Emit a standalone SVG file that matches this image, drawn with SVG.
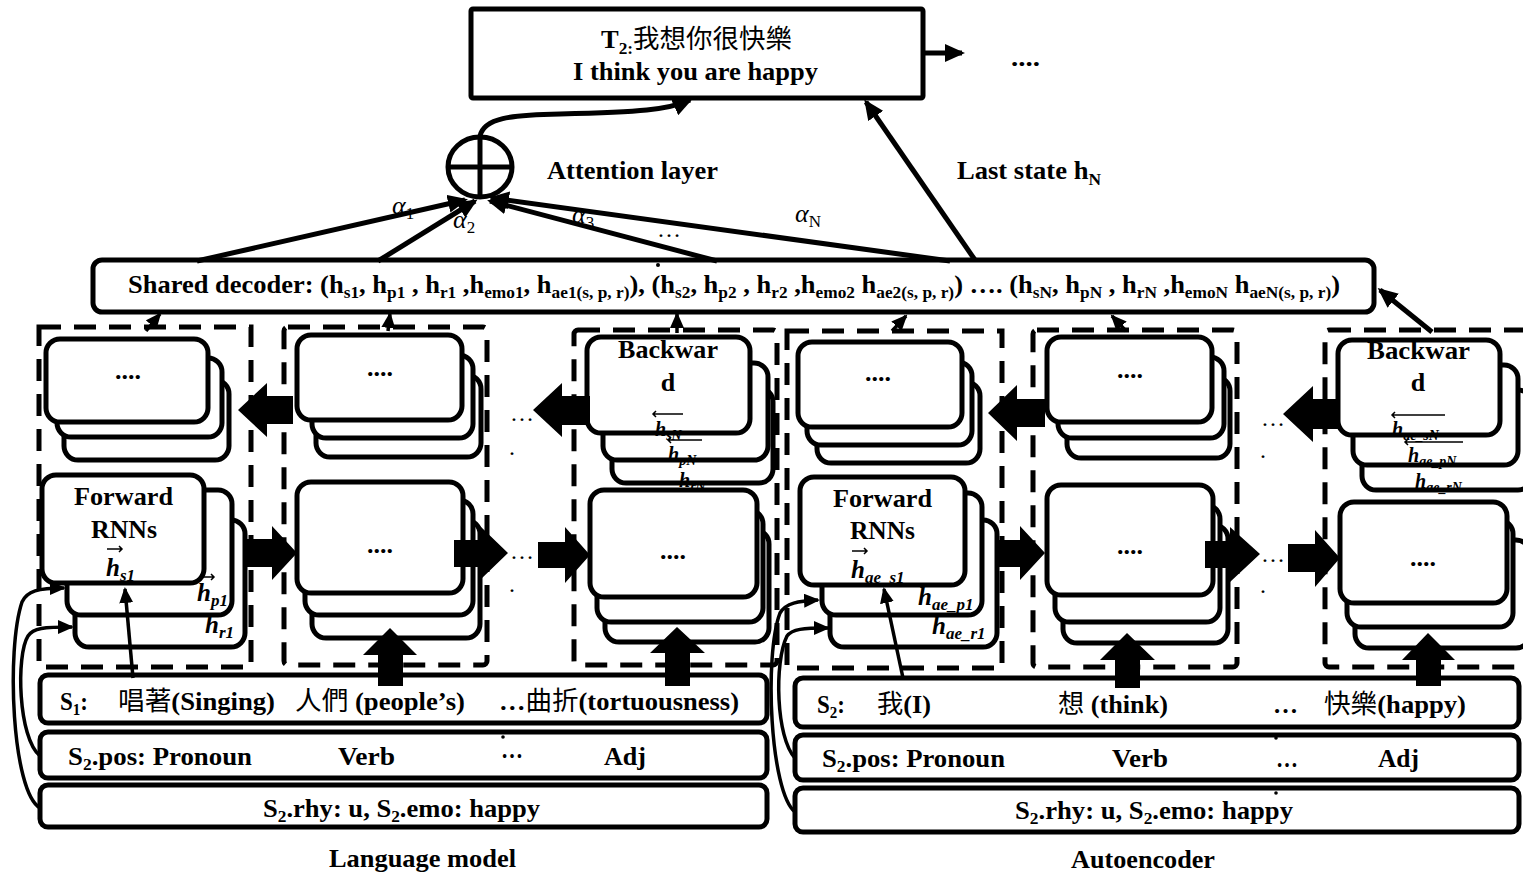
<svg xmlns="http://www.w3.org/2000/svg" width="1523" height="875" viewBox="0 0 1523 875">
<defs>
<style>
text{font-family:"Liberation Serif","Noto Sans CJK TC",serif;font-weight:bold;font-size:26px;fill:#000}
.cjk{font-family:"Noto Sans CJK TC",sans-serif;font-weight:normal}
.sb{font-size:17px}
.m{font-style:italic;font-weight:bold;font-size:25px}
.mb{font-style:italic;font-weight:bold;font-size:20px}
.sbs{font-size:14px}
.al{font-style:italic;font-weight:normal;font-size:26px}
.dots{font-weight:normal;font-size:24px}
.c{fill:#fff;stroke:#000;stroke-width:5}
.bar{fill:#fff;stroke:#000;stroke-width:5}
.dash{fill:none;stroke:#000;stroke-width:5;stroke-dasharray:22 13}
.ln{fill:none;stroke:#000;stroke-width:5}
.thin{fill:none;stroke:#000;stroke-width:3.5}
.va{fill:none;stroke:#000;stroke-width:1.5}
.blk{fill:#000;stroke:none}
</style>
<marker id="ah" viewBox="0 0 20 18" refX="17" refY="9" markerWidth="20" markerHeight="18" markerUnits="userSpaceOnUse" orient="auto"><path d="M0,0 L20,9 L0,18 z" fill="#000"/></marker>
<marker id="ahs" viewBox="0 0 16 14" refX="14" refY="7" markerWidth="16" markerHeight="14" markerUnits="userSpaceOnUse" orient="auto"><path d="M0,0 L16,7 L0,14 z" fill="#000"/></marker>
</defs>
<rect width="1523" height="875" fill="#fff"/>

<!-- dashed column boxes -->
<g id="columns">
<rect class="dash" x="39" y="327" width="212" height="340"/>
<rect class="dash" x="284" y="327" width="203" height="338" rx="4"/>
<rect class="dash" x="574" y="330" width="203" height="335" rx="4"/>
<rect class="dash" x="787" y="331" width="215" height="337"/>
<rect class="dash" x="1033" y="330" width="204" height="337" rx="4"/>
<rect class="dash" x="1325" y="330" width="210" height="337" rx="4"/>
</g>

<!-- output box -->
<g id="output">
<rect x="471" y="9" width="452" height="89" fill="#fff" stroke="#000" stroke-width="5" rx="2"/>
<text x="601" y="48" font-size="24" textLength="191" lengthAdjust="spacingAndGlyphs">T<tspan class="sb" dy="6">2:</tspan><tspan class="cjk" dy="-6">我想你很快樂</tspan></text>
<text x="573" y="80" textLength="245" lengthAdjust="spacingAndGlyphs">I think you are happy</text>
</g>
<g id="next-dots"><text x="1011" y="66" textLength="29" lengthAdjust="spacingAndGlyphs">....</text></g>

<!-- attention -->
<g id="attention">
<ellipse cx="480" cy="167" rx="32" ry="30" fill="#fff" stroke="#000" stroke-width="5"/>
<line x1="480" y1="137" x2="480" y2="197" stroke="#000" stroke-width="5"/>
<line x1="448" y1="167" x2="512" y2="167" stroke="#000" stroke-width="5"/>
</g>
<g id="attention-label"><text x="547" y="179" textLength="171" lengthAdjust="spacingAndGlyphs">Attention layer</text></g>
<g id="last-state-label"><text x="957" y="179" textLength="144" lengthAdjust="spacingAndGlyphs">Last state h<tspan class="sb" dy="6">N</tspan></text></g>

<!-- shared decoder -->
<g id="decoder">
<rect x="93" y="260" width="1281" height="52" rx="9" fill="#fff" stroke="#000" stroke-width="5"/>
<text x="128" y="293" font-size="25" textLength="1212" lengthAdjust="spacingAndGlyphs">Shared decoder: (h<tspan class="sb" dy="5">s1</tspan><tspan dy="-5">, h</tspan><tspan class="sb" dy="5">p1</tspan><tspan dy="-5"> , h</tspan><tspan class="sb" dy="5">r1</tspan><tspan dy="-5"> ,h</tspan><tspan class="sb" dy="5">emo1</tspan><tspan dy="-5">, h</tspan><tspan class="sb" dy="5">ae1(s, p, r)</tspan><tspan dy="-5">), (h</tspan><tspan class="sb" dy="5">s2</tspan><tspan dy="-5">, h</tspan><tspan class="sb" dy="5">p2</tspan><tspan dy="-5"> , h</tspan><tspan class="sb" dy="5">r2</tspan><tspan dy="-5"> ,h</tspan><tspan class="sb" dy="5">emo2</tspan><tspan dy="-5"> h</tspan><tspan class="sb" dy="5">ae2(s, p, r)</tspan><tspan dy="-5">) …. (h</tspan><tspan class="sb" dy="5">sN</tspan><tspan dy="-5">, h</tspan><tspan class="sb" dy="5">pN</tspan><tspan dy="-5"> , h</tspan><tspan class="sb" dy="5">rN</tspan><tspan dy="-5"> ,h</tspan><tspan class="sb" dy="5">emoN</tspan><tspan dy="-5"> h</tspan><tspan class="sb" dy="5">aeN(s, p, r)</tspan><tspan dy="-5">)</tspan></text>
<circle cx="658" cy="265" r="2" fill="#000"/>
</g>

<!-- LM column 1 -->
<g id="lm-bwd-1">
<rect class="c" x="64" y="380" width="165" height="80" rx="14"/>
<rect class="c" x="57" y="358" width="165" height="79" rx="14"/>
<rect class="c" x="46" y="339" width="162" height="83" rx="14"/>
<text x="128" y="379" text-anchor="middle">....</text>
</g>
<g id="lm-fwd-1">
<rect class="c" x="75" y="520" width="170" height="127" rx="14"/>
<text class="m" x="205" y="633">h<tspan class="sb" dy="5">r1</tspan></text>
<rect class="c" x="67" y="490" width="165" height="125" rx="14"/>
<path class="va" d="M202,577 h12 m-3,-3 l3,3 l-3,3"/>
<text class="m" x="197" y="601">h<tspan class="sb" dy="5">p1</tspan></text>
<rect class="c" x="42" y="475" width="162" height="108" rx="14"/>
<text x="74" y="505" textLength="99" lengthAdjust="spacingAndGlyphs">Forward</text>
<text x="91" y="538" textLength="66" lengthAdjust="spacingAndGlyphs">RNNs</text>
<path class="va" d="M107,549 h15 m-3,-3 l3,3 l-3,3"/>
<text class="m" x="106" y="576">h<tspan class="sb" dy="5">s1</tspan></text>
</g>

<!-- LM column 2 -->
<g id="lm-bwd-2">
<rect class="c" x="316" y="375" width="165" height="82" rx="14"/>
<rect class="c" x="312" y="355" width="161" height="83" rx="14"/>
<rect class="c" x="297" y="335" width="165" height="85" rx="14"/>
<text x="380" y="376" text-anchor="middle">....</text>
</g>
<g id="lm-fwd-2">
<rect class="c" x="312" y="520" width="168" height="118" rx="14"/>
<rect class="c" x="305" y="500" width="168" height="115" rx="14"/>
<rect class="c" x="297" y="482" width="166" height="111" rx="14"/>
<text x="380" y="553" text-anchor="middle">....</text>
</g>

<!-- LM column N -->
<g id="lm-bwd-n">
<rect class="c" x="612" y="388" width="161" height="95" rx="14"/>
<text class="mb" x="679" y="487">h<tspan class="sbs" dy="4">rN</tspan></text>
<rect class="c" x="603" y="363" width="165" height="97" rx="14"/>
<path class="va" d="M702,440 h-34 m3,-3 l-3,3 l3,3"/>
<text class="mb" x="668" y="461">h<tspan class="sbs" dy="4">pN</tspan></text>
<rect class="c" x="587" y="337" width="163" height="96" rx="14"/>
<text x="618" y="358" textLength="100" lengthAdjust="spacingAndGlyphs">Backwar</text>
<text x="668" y="391" text-anchor="middle">d</text>
<path class="va" d="M683,414 h-30 m3,-3 l-3,3 l3,3"/>
<text class="mb" x="655" y="436">h<tspan class="sbs" dy="4">sN</tspan></text>
</g>
<g id="lm-fwd-n">
<rect class="c" x="605" y="530" width="164" height="112" rx="14"/>
<rect class="c" x="597" y="510" width="166" height="112" rx="14"/>
<rect class="c" x="590" y="490" width="167" height="107" rx="14"/>
<text x="673" y="559" text-anchor="middle">....</text>
</g>

<!-- AE column 1 -->
<g id="ae-bwd-1">
<rect class="c" x="817" y="382" width="163" height="81" rx="14"/>
<rect class="c" x="807" y="362" width="165" height="83" rx="14"/>
<rect class="c" x="798" y="342" width="164" height="85" rx="14"/>
<text x="878" y="381" text-anchor="middle">....</text>
</g>
<g id="ae-fwd-1">
<rect class="c" x="830" y="520" width="167" height="127" rx="14"/>
<text class="m" x="932" y="634">h<tspan class="sb" dy="5">ae_r1</tspan></text>
<rect class="c" x="822" y="493" width="160" height="122" rx="14"/>
<text class="m" x="918" y="605">h<tspan class="sb" dy="5">ae_p1</tspan></text>
<rect class="c" x="800" y="477" width="165" height="108" rx="14"/>
<text x="833" y="507" textLength="99" lengthAdjust="spacingAndGlyphs">Forward</text>
<text x="850" y="539" textLength="65" lengthAdjust="spacingAndGlyphs">RNNs</text>
<path class="va" d="M852,551 h15 m-3,-3 l3,3 l-3,3"/>
<text class="m" x="851" y="578">h<tspan class="sb" dy="5">ae_s1</tspan></text>
</g>

<!-- AE column 2 -->
<g id="ae-bwd-2">
<rect class="c" x="1067" y="377" width="163" height="81" rx="14"/>
<rect class="c" x="1058" y="357" width="166" height="81" rx="14"/>
<rect class="c" x="1047" y="337" width="165" height="85" rx="14"/>
<text x="1130" y="378" text-anchor="middle">....</text>
</g>
<g id="ae-fwd-2">
<rect class="c" x="1063" y="525" width="165" height="118" rx="14"/>
<rect class="c" x="1055" y="505" width="165" height="117" rx="14"/>
<rect class="c" x="1047" y="485" width="166" height="110" rx="14"/>
<text x="1130" y="554" text-anchor="middle">....</text>
</g>

<!-- AE column N -->
<g id="ae-bwd-n">
<rect class="c" x="1362" y="390" width="170" height="100" rx="14"/>
<text class="mb" x="1415" y="488">h<tspan class="sbs" dy="4">ae_rN</tspan></text>
<rect class="c" x="1353" y="365" width="165" height="100" rx="14"/>
<path class="va" d="M1463,442 h-58 m3,-3 l-3,3 l3,3"/>
<text class="mb" x="1408" y="462">h<tspan class="sbs" dy="4">ae_pN</tspan></text>
<rect class="c" x="1338" y="340" width="162" height="95" rx="14"/>
<text x="1367" y="359" textLength="103" lengthAdjust="spacingAndGlyphs">Backwar</text>
<text x="1418" y="391" text-anchor="middle">d</text>
<path class="va" d="M1445,415 h-53 m3,-3 l-3,3 l3,3"/>
<text class="mb" x="1392" y="436">h<tspan class="sbs" dy="4">ae_sN</tspan></text>
</g>
<g id="ae-fwd-n">
<rect class="c" x="1355" y="540" width="175" height="108" rx="14"/>
<rect class="c" x="1347" y="520" width="166" height="107" rx="14"/>
<rect class="c" x="1340" y="502" width="167" height="101" rx="14"/>
<text x="1423" y="566" text-anchor="middle">....</text>
</g>

<!-- ellipsis between columns -->
<g id="gaps">
<text class="dots" x="510" y="421">…</text><text class="dots" x="509" y="455">.</text>
<text class="dots" x="510" y="559">…</text><text class="dots" x="509" y="592">.</text>
<text class="dots" x="1261" y="426">…</text><text class="dots" x="1260" y="458">.</text>
<text class="dots" x="1261" y="562">…</text><text class="dots" x="1260" y="593">.</text>
</g>

<!-- input bars: language model -->
<g id="lm-s1">
<rect class="bar" x="40" y="675" width="727" height="48" rx="8"/>
<text x="60" y="710" textLength="28" lengthAdjust="spacingAndGlyphs">S<tspan class="sb" dy="5">1</tspan><tspan dy="-5">:</tspan></text>
<text x="118" y="710" textLength="157" lengthAdjust="spacingAndGlyphs"><tspan class="cjk">唱著</tspan>(Singing)</text>
<text x="295" y="710" textLength="170" lengthAdjust="spacingAndGlyphs"><tspan class="cjk">人們</tspan> (people’s)</text>
<text x="499" y="710" textLength="240" lengthAdjust="spacingAndGlyphs">…<tspan class="cjk">曲折</tspan>(tortuousness)</text>
</g>
<g id="lm-pos">
<rect class="bar" x="40" y="732" width="727" height="46" rx="8"/>
<text x="68" y="765" textLength="184" lengthAdjust="spacingAndGlyphs">S<tspan class="sb" dy="5">2</tspan><tspan dy="-5">.pos: Pronoun</tspan></text>
<text x="338" y="765" textLength="57" lengthAdjust="spacingAndGlyphs">Verb</text>
<text x="501" y="758" textLength="22" lengthAdjust="spacingAndGlyphs">…</text>
<circle cx="503" cy="737" r="1.8" fill="#000"/>
<text x="604" y="765" textLength="42" lengthAdjust="spacingAndGlyphs">Adj</text>
</g>
<g id="lm-rhy">
<rect class="bar" x="40" y="785" width="727" height="42" rx="8"/>
<text x="263" y="817" textLength="277" lengthAdjust="spacingAndGlyphs">S<tspan class="sb" dy="5">2</tspan><tspan dy="-5">.rhy: u, S</tspan><tspan class="sb" dy="5">2</tspan><tspan dy="-5">.emo: happy</tspan></text>
</g>
<g id="lm-label"><text x="329" y="867" textLength="187" lengthAdjust="spacingAndGlyphs">Language model</text></g>

<!-- input bars: autoencoder -->
<g id="ae-s2">
<rect class="bar" x="795" y="678" width="724" height="49" rx="8"/>
<text x="817" y="713" textLength="28" lengthAdjust="spacingAndGlyphs">S<tspan class="sb" dy="5">2</tspan><tspan dy="-5">:</tspan></text>
<text x="877" y="713" textLength="54" lengthAdjust="spacingAndGlyphs"><tspan class="cjk">我</tspan>(I)</text>
<text x="1058" y="713" textLength="110" lengthAdjust="spacingAndGlyphs"><tspan class="cjk">想</tspan> (think)</text>
<text x="1273" y="713" textLength="25" lengthAdjust="spacingAndGlyphs">…</text>
<text x="1324" y="713" textLength="142" lengthAdjust="spacingAndGlyphs"><tspan class="cjk">快樂</tspan>(happy)</text>
</g>
<g id="ae-pos">
<rect class="bar" x="795" y="735" width="724" height="45" rx="8"/>
<text x="822" y="767" textLength="183" lengthAdjust="spacingAndGlyphs">S<tspan class="sb" dy="5">2</tspan><tspan dy="-5">.pos: Pronoun</tspan></text>
<text x="1112" y="767" textLength="56" lengthAdjust="spacingAndGlyphs">Verb</text>
<text x="1276" y="767" textLength="22" lengthAdjust="spacingAndGlyphs">…</text>
<circle cx="1276" cy="738" r="1.8" fill="#000"/>
<text x="1378" y="767" textLength="41" lengthAdjust="spacingAndGlyphs">Adj</text>
</g>
<g id="ae-rhy">
<rect class="bar" x="795" y="788" width="724" height="44" rx="8"/>
<circle cx="1276" cy="793" r="1.8" fill="#000"/>
<text x="1015" y="819" textLength="278" lengthAdjust="spacingAndGlyphs">S<tspan class="sb" dy="5">2</tspan><tspan dy="-5">.rhy: u, S</tspan><tspan class="sb" dy="5">2</tspan><tspan dy="-5">.emo: happy</tspan></text>
</g>
<g id="ae-label"><text x="1071" y="868" textLength="144" lengthAdjust="spacingAndGlyphs">Autoencoder</text></g>

<!-- connectors -->
<g id="connectors">
<text class="al" x="392" y="214">α<tspan font-style="normal" font-size="17" dy="5">1</tspan></text>
<text class="al" x="453" y="228">α<tspan font-style="normal" font-size="17" dy="5">2</tspan></text>
<text class="al" x="572" y="223">α<tspan font-style="normal" font-size="17" dy="5">3</tspan></text>
<text class="dots" x="657" y="237">…</text>
<text class="al" x="795" y="222">α<tspan font-style="normal" font-size="17" dy="5">N</tspan></text>
<line class="ln" x1="197" y1="261" x2="465" y2="200" marker-end="url(#ah)"/>
<line class="ln" x1="378" y1="261" x2="475" y2="201" marker-end="url(#ah)"/>
<line class="ln" x1="717" y1="261" x2="490" y2="201" marker-end="url(#ah)"/>
<line class="ln" x1="950" y1="261" x2="492" y2="198" marker-end="url(#ah)"/>
<path class="ln" d="M480,136 C484,118 510,115 560,114 C640,112 668,110 690,100" marker-end="url(#ah)"/>
<line class="ln" x1="975" y1="260" x2="866" y2="102" marker-end="url(#ah)"/>
<line class="ln" x1="923" y1="53" x2="962" y2="53" marker-end="url(#ah)"/>
<line class="thin" x1="146" y1="331" x2="160" y2="314" marker-end="url(#ahs)"/>
<line class="thin" x1="388" y1="331" x2="390" y2="314" marker-end="url(#ahs)"/>
<line class="thin" x1="677" y1="333" x2="677" y2="314" marker-end="url(#ahs)"/>
<line class="thin" x1="892" y1="331" x2="906" y2="316" marker-end="url(#ahs)"/>
<line class="thin" x1="1126" y1="331" x2="1112" y2="316" marker-end="url(#ahs)"/>
<line class="ln" x1="1432" y1="332" x2="1380" y2="290" marker-end="url(#ah)"/>
<polygon class="blk" points="238,410 267,383 267,396 293,396 293,424 267,424 267,437"/>
<polygon class="blk" points="533,410 562,383 562,396 590,396 590,425 562,425 562,437"/>
<polygon class="blk" points="988,413 1017,385 1017,399 1045,399 1045,427 1017,427 1017,441"/>
<polygon class="blk" points="1283,414 1313,386 1313,399 1340,399 1340,429 1313,429 1313,442"/>
<polygon class="blk" points="297,553 272,526 272,539 247,539 247,567 272,567 272,580"/>
<polygon class="blk" points="508,553 480,526 480,540 454,540 454,567 480,567 480,580"/>
<polygon class="blk" points="590,555 565,527 565,542 538,542 538,568 565,568 565,583"/>
<polygon class="blk" points="1045,553 1020,526 1020,540 997,540 997,567 1020,567 1020,580"/>
<polygon class="blk" points="1260,554 1230,527 1230,541 1205,541 1205,568 1230,568 1230,582"/>
<polygon class="blk" points="1340,558 1315,530 1315,544 1288,544 1288,572 1315,572 1315,587"/>
<polygon class="blk" points="390,628 417,655 403,655 403,686 378,686 378,655 363,655"/>
<polygon class="blk" points="677,627 705,653 690,653 690,686 665,686 665,653 650,653"/>
<polygon class="blk" points="1127,633 1155,660 1140,660 1140,688 1115,688 1115,660 1100,660"/>
<polygon class="blk" points="1428,633 1455,660 1441,660 1441,686 1416,686 1416,660 1402,660"/>
<line class="thin" x1="133" y1="678" x2="125" y2="589" marker-end="url(#ahs)"/>
<line class="thin" x1="903" y1="678" x2="884" y2="589" marker-end="url(#ahs)"/>
<path class="thin" d="M40,808 C12,792 6,650 22,602 C27,591 38,588 64,588" marker-end="url(#ahs)"/>
<path class="thin" d="M40,756 C18,738 16,655 28,636 C33,628 44,627 72,627" marker-end="url(#ahs)"/>
<path class="thin" d="M795,812 C770,792 764,655 780,613 C786,603 798,601 818,600" marker-end="url(#ahs)"/>
<path class="thin" d="M795,758 C776,738 774,662 787,636 C792,629 803,628 828,628" marker-end="url(#ahs)"/>
</g>
</svg>
